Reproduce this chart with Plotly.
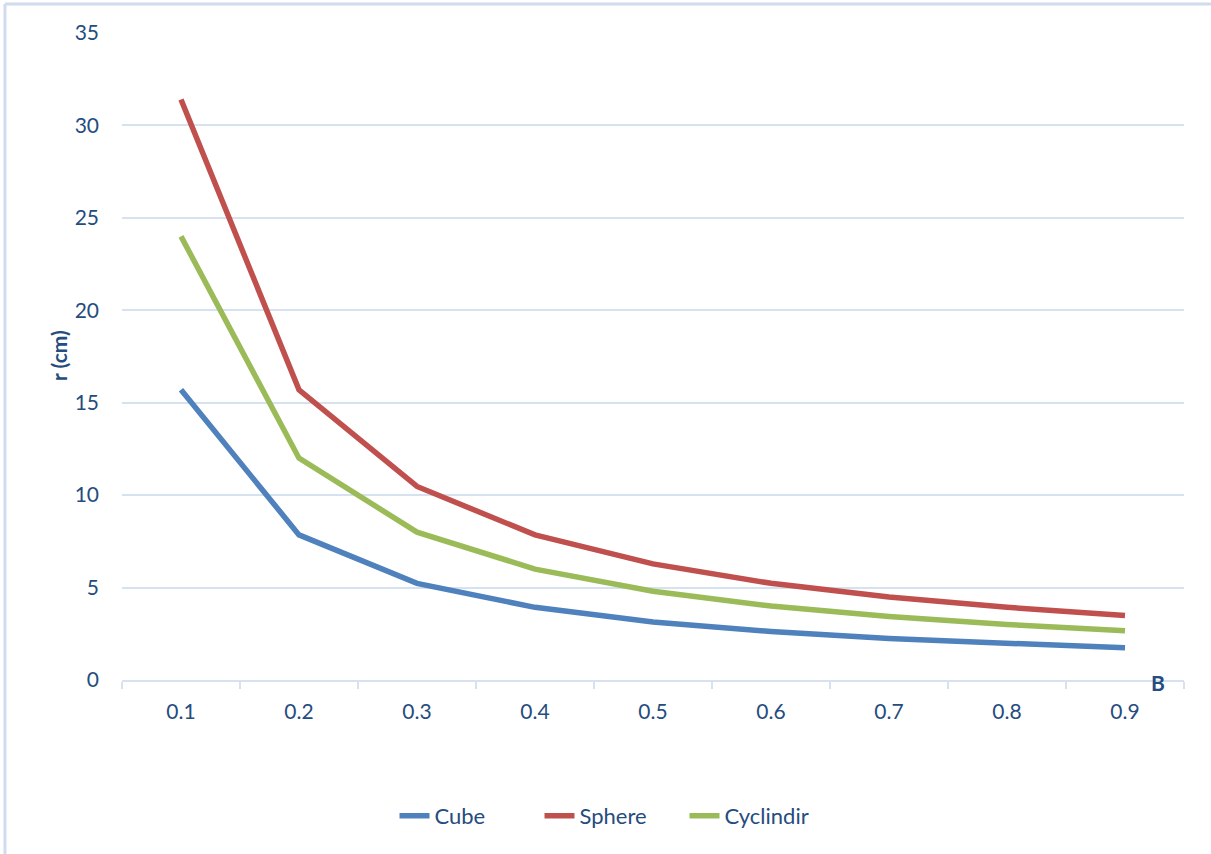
import plotly.graph_objects as go

categories = ["0.1", "0.2", "0.3", "0.4", "0.5", "0.6", "0.7", "0.8", "0.9"]
cube = [15.7, 7.85, 5.23, 3.93, 3.14, 2.62, 2.24, 1.96, 1.74]
sphere = [31.4, 15.7, 10.47, 7.85, 6.28, 5.23, 4.49, 3.93, 3.49]
cylinder = [24.0, 12.0, 8.0, 6.0, 4.8, 4.0, 3.43, 3.0, 2.67]
y_ticks = [0, 5, 10, 15, 20, 25, 30, 35]

text_color = "#254C7E"
grid_color = "#D7E2F1"
font_family = "Lato, Carlito, 'Noto Sans', sans-serif"

fig = go.Figure()
for name, vals, col in [("Cube", cube, "#4F81BD"),
                        ("Sphere", sphere, "#C0504D"),
                        ("Cyclindir", cylinder, "#9BBB59")]:
    fig.add_trace(go.Scatter(x=categories, y=vals, name=name, mode="lines",
                             line=dict(color=col, width=5.5)))

fig.update_layout(
    width=1211, height=854,
    margin=dict(l=122, r=27, t=33, b=174),
    paper_bgcolor="white", plot_bgcolor="white",
    font=dict(family=font_family, size=21, color=text_color),
    showlegend=True,
    legend=dict(orientation="h", x=0.4614, y=-0.21, xanchor="center", yanchor="middle",
                font=dict(size=22, color=text_color), entrywidth=100,
                tracegroupgap=0, bgcolor="rgba(0,0,0,0)"),
    xaxis=dict(type="category", range=[-0.5, 8.5], showgrid=False,
               showline=True, linecolor=grid_color, linewidth=2,
               ticks="outside", tickson="boundaries", ticklen=7, tickcolor=grid_color,
               tickwidth=2, tickfont=dict(size=21, color=text_color), ticklabelstandoff=12,
               zeroline=False),
    yaxis=dict(range=[0, 35], tickvals=y_ticks, showgrid=True, gridcolor=grid_color,
               gridwidth=2, showline=False, zeroline=False, ticks="",
               tickfont=dict(size=21, color=text_color), ticklabelstandoff=22),
    annotations=[
        dict(text="<b>r (cm)</b>", x=-0.0603, y=0.5023, xref="paper", yref="paper",
             textangle=-90, showarrow=False, xanchor="center", yanchor="middle",
             font=dict(size=21, color=text_color)),
        dict(text="<b>B</b>", x=0.9755, y=-0.0046, xref="paper", yref="paper",
             showarrow=False, xanchor="center", yanchor="middle",
             font=dict(size=21, color=text_color)),
    ],
    shapes=[
        dict(type="line", xref="paper", yref="paper", x0=-0.1102, x1=1.03, y0=1.0448, y1=1.0448,
             line=dict(color="#D0DCEE", width=3)),
        dict(type="line", xref="paper", yref="paper", x0=-0.1102, x1=-0.1102, y0=1.0448, y1=-0.3,
             line=dict(color="#D0DCEE", width=3)),
    ],
)

fig.write_html("out.html", config={"displayModeBar": False},
               post_script="document.body.style.margin='0';document.body.style.overflow='hidden';")
